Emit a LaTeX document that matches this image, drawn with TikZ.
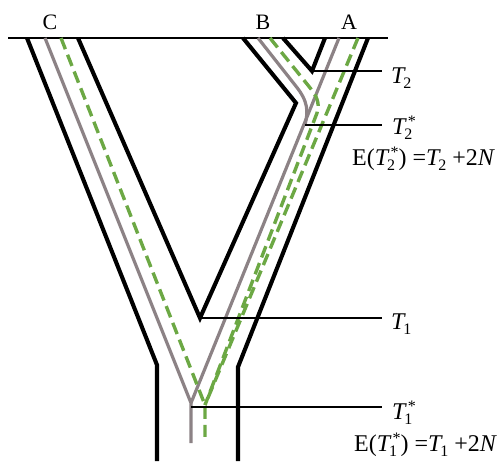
\documentclass[tikz,border=0pt]{standalone}
\usepackage{fontspec}
\setmainfont{Liberation Serif}
\definecolor{lingray}{RGB}{140,130,133}
\definecolor{lingreen}{RGB}{108,168,68}
\newcommand\subf{\fontsize{16}{16}\selectfont}
\newcommand\Tv[1]{\textit{T}\kern-2.5pt\raisebox{-5pt}{\subf #1}}
\newcommand\Ts[1]{\textit{T}\kern-2.5pt\rlap{\raisebox{-5pt}{\subf #1}}\kern3.5pt\raisebox{8pt}{\subf *}}
\begin{document}
\begin{tikzpicture}[x=1pt,y=-1pt,
  wall/.style={line width=4.1pt, line join=miter, line cap=butt},
  grayline/.style={line width=3.2pt, draw=lingray, line join=round},
  greenline/.style={line width=3.4pt, draw=lingreen, dash pattern=on 12pt off 6pt},
  thin/.style={line width=1.3pt},
  lab/.style={font=\fontsize{24}{27}\selectfont, inner sep=0pt, anchor=base west},
  pop/.style={font=\fontsize{22}{26}\selectfont, inner sep=0pt, anchor=base}]
\useasboundingbox (0,0) rectangle (503,461);
% coordinates
\coordinate (tl) at (8,38);
\coordinate (tr) at (388,38);
\coordinate (oL) at (27,38);
\coordinate (oLk) at (157,365);
\coordinate (oLb) at (157,461);
\coordinate (iC) at (78,38);
\coordinate (v1) at (200,318);
\coordinate (jB) at (296,103);
\coordinate (iB) at (243,38);
\coordinate (sL) at (283,38);
\coordinate (v2) at (312,71);
\coordinate (sR) at (325,38);
\coordinate (oR) at (368,38);
\coordinate (oRk) at (238,367);
\coordinate (oRb) at (238,461);
\coordinate (gC) at (45,38);
\coordinate (gA) at (339,38);
\coordinate (gB) at (258,38);
\coordinate (g2) at (305,125);
\coordinate (g1) at (191,403);
\coordinate (g1b) at (191,443);
\coordinate (g1s) at (191,407);
\coordinate (eC) at (61,38);
\coordinate (eA) at (358,38);
\coordinate (eB) at (270,38);
\coordinate (e1) at (205,405);
\coordinate (e1b) at (205,442);
% end points of level lines
\coordinate (t2e) at (382,71);
\coordinate (t2se) at (382,125);
\coordinate (t1e) at (382,318);
\coordinate (t1se) at (382,407);
% top line
\draw[line width=1.6pt] (tl) -- (tr);
% walls
\draw[wall] (oL) -- (oLk) -- (oLb);
\draw[wall] (iC) -- (v1) -- (jB) -- (iB);
\draw[wall] (sL) -- (v2) -- (sR);
\draw[wall] (oR) -- (oRk) -- (oRb);
% gray lineages
\draw[grayline] (gC) -- (g1) -- (g1b);
\draw[grayline] (gA) -- (g1);
\draw[grayline] (gB) -- (295,85) .. controls (309,102) and (308,112) .. (g2);
% green lineages
\draw[greenline] (eC) -- (e1) -- (e1b);
\draw[greenline] (eA) -- (e1);
\draw[greenline] (eB) -- (311,89) .. controls (319,99) and (319,106) .. (317,113) -- (e1);
% level lines
\draw[thin] (v2) -- (t2e);
\draw[thin] (g2) -- (t2se);
\draw[thin] (v1) -- (t1e);
\draw[thin] (g1s) -- (t1se);
% labels
\node[pop] (lC) at (50,29) {C};
\node[pop] (lB) at (263,29) {B};
\node[pop] (lA) at (349,29) {A};
\node[lab] (lT2) at (391,83) {\Tv{2}};
\node[lab] (lT2s) at (392,134) {\Ts{2}};
\node[lab] (lE2) at (352,165) {E(\Ts{2}) =\Tv{2}\kern6pt+2\textit{N}};
\node[lab] (lT1) at (391,329) {\Tv{1}};
\node[lab] (lT1s) at (392,419) {\Ts{1}};
\node[lab] (lE1) at (354,451) {E(\Ts{1}) =\Tv{1}\kern6pt+2\textit{N}};
\end{tikzpicture}
\end{document}
